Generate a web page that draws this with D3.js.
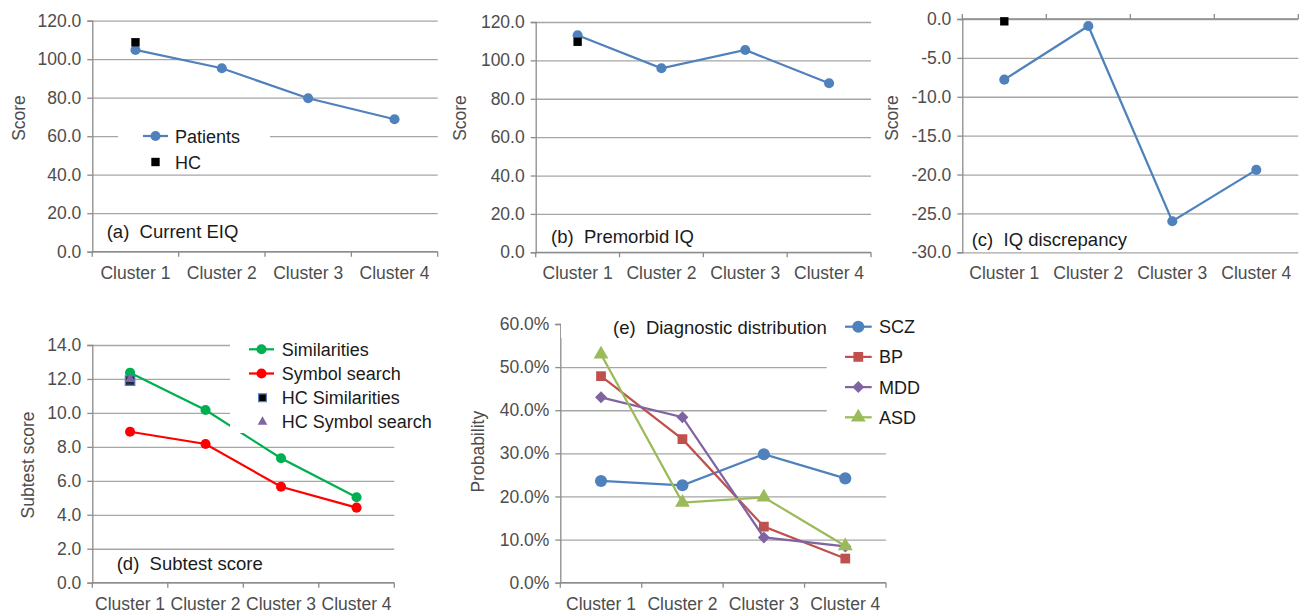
<!DOCTYPE html>
<html>
<head>
<meta charset="utf-8">
<script src="https://cdn.jsdelivr.net/npm/d3@7"></script>
<style>
  body { margin: 0; background: #fff; }
  svg { display: block; font-family: "Liberation Sans", Arial, sans-serif; }
  text { white-space: pre; }
</style>
</head>
<body>
<script>
// categories
var clusters = ["Cluster 1", "Cluster 2", "Cluster 3", "Cluster 4"];

// (a) current EIQ
var eiqPatients = [104.8, 95.3, 79.7, 68.8];
var eiqHC = 108.8;
// (b) premorbid IQ
var premorbidPatients = [113.1, 95.9, 105.4, 88.1];
var premorbidHC = 109.7;
// (c) IQ discrepancy
var discrepancyPatients = [-7.8, -0.9, -26.0, -19.4];
var discrepancyHC = -0.3;
// (d) subtest scores
var similarities = [12.37, 10.17, 7.33, 5.03];
var symbolSearch = [8.89, 8.17, 5.65, 4.42];
var hcSimilarities = 11.9;
var hcSymbolSearch = 12.0;
// (e) diagnostic distribution
var scz = [0.236, 0.226, 0.298, 0.242];
var bp = [0.479, 0.333, 0.130, 0.056];
var mdd = [0.430, 0.384, 0.105, 0.084];
var asd = [0.530, 0.186, 0.198, 0.085];

// tick labels
var iqTicks = [0, 20, 40, 60, 80, 100, 120];
var discTicks = [-30, -25, -20, -15, -10, -5, 0];
var subTicks = [0, 2, 4, 6, 8, 10, 12, 14];
var probTicks = [0, 0.1, 0.2, 0.3, 0.4, 0.5, 0.6];

var blue = "#4f81bd", red = "#c0504d", purple = "#8064a2", olive = "#9bbb59";
var gridColor = "#a6a6a6", axisColor = "#8c8c8c", tickText = "#4d4d4d", darkText = "#1a1a1a";

var svg = d3.select("body")
    .append("svg")
    .attr("width", 1308)
    .attr("height", 615);

function fixed1(d){ return d.toFixed(1); }

//draw axes + gridlines of one panel, returns scales
function setPanel(p){
    var g = svg.append("g");
    var x = d3.scaleBand().domain(clusters).range([p.left, p.right]);
    var y = d3.scaleLinear().domain(p.domain).range([p.bottom, p.top]);

    //gridlines
    var grid = g.append("g")
        .attr("transform", "translate(" + p.left + ",0)")
        .call(d3.axisLeft(y).tickValues(p.ticks).tickSize(-(p.right - p.left)).tickFormat(""));
    grid.select(".domain").remove();
    grid.selectAll("line").attr("stroke", gridColor).attr("stroke-width", 1.3);

    //vertical axis
    var yAx = g.append("g")
        .attr("transform", "translate(" + p.left + ",0)")
        .call(d3.axisLeft(y).tickValues(p.ticks).tickSize(5).tickPadding(6).tickFormat(p.format));
    yAx.select(".domain").attr("stroke", axisColor).attr("stroke-width", 1.3);
    yAx.selectAll("line").attr("stroke", axisColor).attr("stroke-width", 1.3);
    yAx.selectAll("text").attr("font-size", "17.5px").attr("fill", tickText).attr("font-family", null);

    //horizontal axis line where it crosses
    var cy = y(p.cross);
    g.append("line")
        .attr("x1", p.left).attr("x2", p.right)
        .attr("y1", cy).attr("y2", cy)
        .attr("stroke", axisColor).attr("stroke-width", 1.3);
    var edges = clusters.map(function(c){ return x(c); }).concat([x.range()[1]]);
    g.selectAll(".xtick")
        .data(edges)
        .enter()
        .append("line")
        .attr("x1", function(d){ return d; }).attr("x2", function(d){ return d; })
        .attr("y1", cy).attr("y2", cy + p.tickDir * 5)
        .attr("stroke", axisColor).attr("stroke-width", 1.3);

    //category labels at the bottom
    var xAx = g.append("g")
        .attr("transform", "translate(0," + p.bottom + ")")
        .call(d3.axisBottom(x).tickSize(0).tickPadding(14.5));
    xAx.select(".domain").remove();
    xAx.selectAll("text").attr("font-size", "17.5px").attr("fill", tickText).attr("font-family", null);

    //axis title
    g.append("text")
        .attr("transform", "translate(" + p.titleX + "," + p.titleY + ") rotate(-90)")
        .attr("text-anchor", "middle")
        .attr("font-size", "17.5px")
        .attr("fill", tickText)
        .text(p.title);

    return {g: g, x: x, y: y};
}

function cx(s, i){ return s.x(clusters[i]) + s.x.bandwidth() / 2; }

function drawSeries(s, values, color, symbolType, size, rotate){
    var line = d3.line()
        .x(function(d, i){ return cx(s, i); })
        .y(function(d){ return s.y(d); });
    s.g.append("path")
        .datum(values)
        .attr("d", line)
        .attr("fill", "none")
        .attr("stroke", color)
        .attr("stroke-width", 2.25);
    s.g.selectAll(null)
        .data(values)
        .enter()
        .append("path")
        .attr("d", d3.symbol().type(symbolType).size(size))
        .attr("transform", function(d, i){
            return "translate(" + cx(s, i) + "," + s.y(d) + ")" + (rotate ? " rotate(45)" : "");
        })
        .attr("fill", color);
}

function drawPoint(s, value, symbolType, size, fill, stroke){
    s.g.append("path")
        .attr("d", d3.symbol().type(symbolType).size(size))
        .attr("transform", "translate(" + cx(s, 0) + "," + s.y(value) + ")")
        .attr("fill", fill)
        .attr("stroke", stroke || "none")
        .attr("stroke-width", 1.2);
}

function panelLabel(x, y, txt, size){
    svg.append("text")
        .attr("x", x).attr("y", y)
        .attr("font-size", size || "18.5px")
        .attr("fill", darkText)
        .text(txt);
}

//(a) Current EIQ
var pa = setPanel({left: 92.3, right: 437.7, top: 20.7, bottom: 251.7, domain: [0, 120], ticks: iqTicks,
    format: fixed1, cross: 0, tickDir: 1, title: "Score", titleX: 25, titleY: 118});
drawSeries(pa, eiqPatients, blue, d3.symbolCircle, 80);
drawPoint(pa, eiqHC, d3.symbolSquare, 70, "#000");
svg.append("rect").attr("x", 118).attr("y", 126).attr("width", 152).attr("height", 48).attr("fill", "#fff");
svg.append("line").attr("x1", 143).attr("x2", 168).attr("y1", 136).attr("y2", 136)
    .attr("stroke", blue).attr("stroke-width", 2.25);
svg.append("path").attr("d", d3.symbol().type(d3.symbolCircle).size(80)).attr("transform", "translate(155.5,136)").attr("fill", blue);
svg.append("path").attr("d", d3.symbol().type(d3.symbolSquare).size(70)).attr("transform", "translate(155.5,162)").attr("fill", "#000");
panelLabel(175, 142.5, "Patients", "18px");
panelLabel(175, 168.5, "HC", "18px");
panelLabel(106.7, 237.5, "(a)  Current EIQ");

//(b) Premorbid IQ
var pb = setPanel({left: 535.7, right: 871, top: 22, bottom: 252.3, domain: [0, 120], ticks: iqTicks,
    format: fixed1, cross: 0, tickDir: 1, title: "Score", titleX: 466, titleY: 118});
drawSeries(pb, premorbidPatients, blue, d3.symbolCircle, 80);
drawPoint(pb, premorbidHC, d3.symbolSquare, 70, "#000");
panelLabel(551, 243, "(b)  Premorbid IQ");

//(c) IQ discrepancy
var pc = setPanel({left: 962.3, right: 1298.3, top: 19, bottom: 252.3, domain: [-30, 0], ticks: discTicks,
    format: fixed1, cross: 0, tickDir: -1, title: "Score", titleX: 898, titleY: 118});
drawSeries(pc, discrepancyPatients, blue, d3.symbolCircle, 80);
drawPoint(pc, discrepancyHC, d3.symbolSquare, 70, "#000");
panelLabel(971.7, 245.5, "(c)  IQ discrepancy");

//(d) Subtest score
var pd = setPanel({left: 92.3, right: 394.3, top: 345, bottom: 582.7, domain: [0, 14], ticks: subTicks,
    format: fixed1, cross: 0, tickDir: 1, title: "Subtest score", titleX: 34, titleY: 465});
drawSeries(pd, similarities, "#00b050", d3.symbolCircle, 80);
drawSeries(pd, symbolSearch, "#ff0000", d3.symbolCircle, 80);
drawPoint(pd, hcSimilarities, d3.symbolSquare, 90, "#1f2a44", blue);
drawPoint(pd, hcSymbolSearch, d3.symbolTriangle, 45, purple);
svg.append("rect").attr("x", 230).attr("y", 335).attr("width", 215).attr("height", 98).attr("fill", "#fff");
var legD = [
    {name: "Similarities", color: "#00b050", kind: "line"},
    {name: "Symbol search", color: "#ff0000", kind: "line"},
    {name: "HC Similarities", color: "#000", kind: "square"},
    {name: "HC Symbol search", color: purple, kind: "tri"}
];
legD.forEach(function(d, i){
    var ry = 349.3 + i * 24.2;
    if (d.kind == "line"){
        svg.append("line").attr("x1", 249).attr("x2", 274).attr("y1", ry).attr("y2", ry)
            .attr("stroke", d.color).attr("stroke-width", 2.25);
        svg.append("path").attr("d", d3.symbol().type(d3.symbolCircle).size(80))
            .attr("transform", "translate(261.5," + ry + ")").attr("fill", d.color);
    } else if (d.kind == "square"){
        svg.append("path").attr("d", d3.symbol().type(d3.symbolSquare).size(60))
            .attr("transform", "translate(262.5," + ry + ")").attr("fill", d.color)
            .attr("stroke", blue).attr("stroke-width", 1.2);
    } else {
        svg.append("path").attr("d", d3.symbol().type(d3.symbolTriangle).size(40))
            .attr("transform", "translate(262.5," + ry + ")").attr("fill", d.color);
    }
    panelLabel(281.7, ry + 6.5, d.name, "18px");
});
panelLabel(116.7, 570, "(d)  Subtest score");

//(e) Diagnostic distribution
var pe = setPanel({left: 560.3, right: 886, top: 324, bottom: 582.7, domain: [0, 0.6], ticks: probTicks,
    format: d3.format(".1%"), cross: 0, tickDir: 1, title: "Probability", titleX: 484, titleY: 451.7});
svg.append("rect").attr("x", 561).attr("y", 312).attr("width", 266).attr("height", 26).attr("fill", "#fff");
svg.append("rect").attr("x", 826.7).attr("y", 312).attr("width", 100).attr("height", 120).attr("fill", "#fff");
var diagSeries = [
    {name: "SCZ", values: scz, color: blue, type: d3.symbolCircle, size: 115, rot: false},
    {name: "BP", values: bp, color: red, type: d3.symbolSquare, size: 95, rot: false},
    {name: "MDD", values: mdd, color: purple, type: d3.symbolSquare, size: 72, rot: true},
    {name: "ASD", values: asd, color: olive, type: d3.symbolTriangle, size: 95, rot: false}
];
diagSeries.forEach(function(d){
    drawSeries(pe, d.values, d.color, d.type, d.size, d.rot);
});
diagSeries.forEach(function(d, i){
    var ry = 326.7 + i * 30.2;
    svg.append("line").attr("x1", 845).attr("x2", 871.7).attr("y1", ry).attr("y2", ry)
        .attr("stroke", d.color).attr("stroke-width", 2.25);
    svg.append("path").attr("d", d3.symbol().type(d.type).size(d.size))
        .attr("transform", "translate(858.3," + ry + ")" + (d.rot ? " rotate(45)" : ""))
        .attr("fill", d.color);
    panelLabel(879, ry + 6.5, d.name, "18px");
});
panelLabel(613, 333.5, "(e)  Diagnostic distribution");
</script>
</body>
</html>
